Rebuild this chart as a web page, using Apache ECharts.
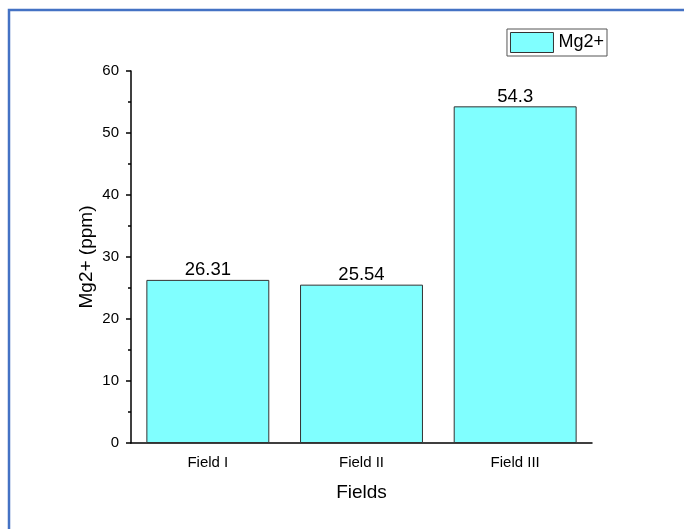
<!DOCTYPE html>
<html><head><meta charset="utf-8">
<script src="https://cdn.jsdelivr.net/npm/echarts@6/dist/echarts.min.js"></script>
<style>html,body{margin:0;padding:0;background:#fff}#c{width:684px;height:529px}</style>
</head><body><div id="c"></div>
<script>
var categories = ['Field I', 'Field II', 'Field III'];
var values = [26.31, 25.54, 54.3];
var seriesName = 'Mg2+';
var yTicks = [0, 10, 20, 30, 40, 50, 60];

var FONT = 'Liberation Sans, Arial, sans-serif';
var chart = echarts.init(document.getElementById('c'), null, {renderer: 'canvas'});
chart.setOption({
  backgroundColor: '#ffffff',
  animation: false,
  graphic: [{
    type: 'rect', shape: {x: 9, y: 10, width: 700, height: 540},
    style: {fill: 'none', stroke: '#4472C4', lineWidth: 2.5}, silent: true
  }],
  grid: {left: 131, right: 92, top: 71, bottom: 86},
  legend: {
    right: 77, top: 29, itemWidth: 43, itemHeight: 20, itemGap: 0,
    padding: [3, 3, 3, 3],
    borderColor: '#555', borderWidth: 1,
    icon: 'rect',
    textStyle: {fontFamily: FONT, fontSize: 18, color: '#000'},
    data: [{name: seriesName, icon: 'rect', itemStyle: {color: '#80FFFF', borderColor: '#333', borderWidth: 1}}]
  },
  xAxis: [{
    type: 'category', data: categories,
    name: 'Fields', nameLocation: 'middle', nameGap: 40, nameMoveOverlap: false,
    nameTextStyle: {fontFamily: FONT, fontSize: 19, color: '#000'},
    axisLine: {lineStyle: {color: '#000', width: 1.5}},
    axisTick: {alignWithLabel: true, length: 6, lineStyle: {color: '#000', width: 1.5}},
    axisLabel: {fontFamily: FONT, fontSize: 15, color: '#000', margin: 12}
  }, {
    type: 'category', data: categories, position: 'bottom',
    axisLine: {show: false},
    axisTick: {length: 3, lineStyle: {color: '#000', width: 1.5}},
    axisLabel: {show: false}
  }],
  yAxis: {
    type: 'value', min: yTicks[0], max: yTicks[yTicks.length - 1], interval: 10,
    name: 'Mg2+ (ppm)', nameLocation: 'middle', nameGap: 35, nameMoveOverlap: false,
    nameTextStyle: {fontFamily: FONT, fontSize: 19, color: '#000'},
    axisLine: {show: true, lineStyle: {color: '#000', width: 1.5}},
    axisTick: {show: true, length: 5, lineStyle: {color: '#000', width: 1.5}},
    minorTick: {show: true, splitNumber: 2, length: 3, lineStyle: {color: '#000', width: 1.5}},
    splitLine: {show: false},
    axisLabel: {fontFamily: FONT, fontSize: 15, color: '#000', margin: 12}
  },
  series: [{
    name: seriesName, type: 'bar', data: values, xAxisIndex: 0,
    barCategoryGap: '20%',
    itemStyle: {color: '#80FFFF', borderColor: '#333', borderWidth: 1},
    label: {show: true, position: 'top', distance: 0, fontFamily: FONT, fontSize: 18.5, color: '#000'}
  }]
});
</script></body></html>
